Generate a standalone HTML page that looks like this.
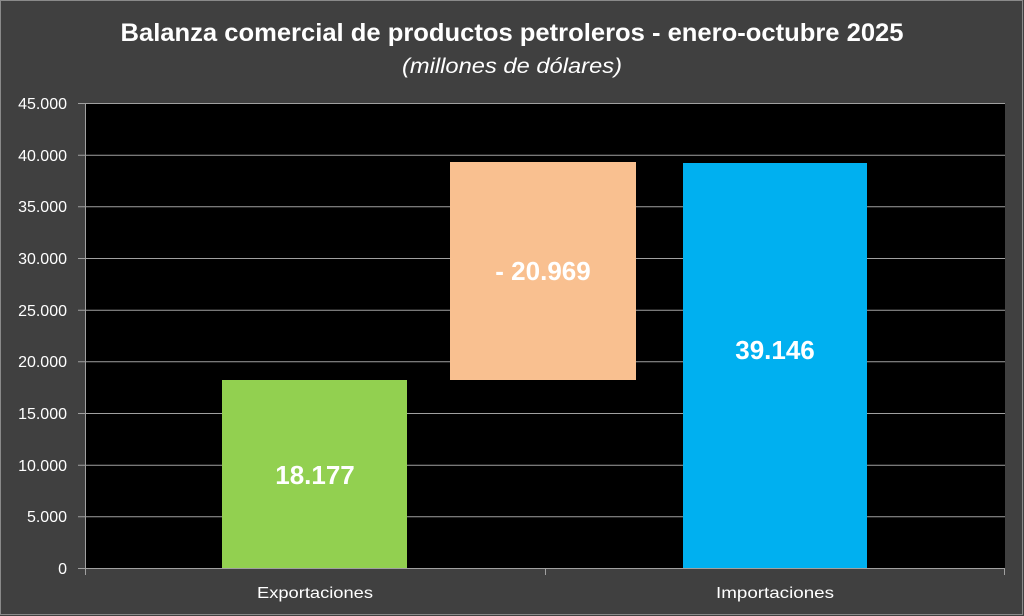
<!DOCTYPE html>
<html><head><style>
html,body{margin:0;padding:0;background:#404040;}
svg{display:block}
text{font-family:"Liberation Sans",sans-serif;}
</style></head><body>
<svg width="1024" height="616" viewBox="0 0 1024 616">
<rect x="0.5" y="0.5" width="1022" height="614" fill="#404040" stroke="#8a8a8a" stroke-width="1"/>
<text x="512" y="41" text-anchor="middle" fill="#fff" font-size="25" font-weight="bold" textLength="783" lengthAdjust="spacingAndGlyphs">Balanza comercial de productos petroleros - enero-octubre 2025</text>
<text x="512" y="73" text-anchor="middle" fill="#fff" font-size="21" font-style="italic" textLength="220" lengthAdjust="spacingAndGlyphs">(millones de dólares)</text>
<rect x="85" y="103" width="920" height="465" fill="#000"/>
<g stroke="#a0a0a0" stroke-width="1">
<line x1="78" y1="103.5" x2="1005" y2="103.5"/>
<line x1="78" y1="155.2" x2="1005" y2="155.2"/>
<line x1="78" y1="206.8" x2="1005" y2="206.8"/>
<line x1="78" y1="258.5" x2="1005" y2="258.5"/>
<line x1="78" y1="310.2" x2="1005" y2="310.2"/>
<line x1="78" y1="361.8" x2="1005" y2="361.8"/>
<line x1="78" y1="413.5" x2="1005" y2="413.5"/>
<line x1="78" y1="465.2" x2="1005" y2="465.2"/>
<line x1="78" y1="516.8" x2="1005" y2="516.8"/>
<line x1="85.5" y1="103" x2="85.5" y2="568"/>
</g>
<rect x="222" y="380" width="185" height="188" fill="#92d050"/>
<rect x="450" y="162" width="186" height="218" fill="#f9c090"/>
<rect x="683" y="163" width="184" height="405" fill="#00b0f0"/>
<g stroke="#a0a0a0" stroke-width="1">
<line x1="78" y1="568.5" x2="1005" y2="568.5"/>
<line x1="85.5" y1="568" x2="85.5" y2="575"/>
<line x1="545.5" y1="568" x2="545.5" y2="575"/>
<line x1="1004.5" y1="568" x2="1004.5" y2="575"/>
</g>
<g fill="#fff" font-size="16" text-anchor="end">
<text x="67" y="109">45.000</text>
<text x="67" y="161">40.000</text>
<text x="67" y="212">35.000</text>
<text x="67" y="264">30.000</text>
<text x="67" y="316">25.000</text>
<text x="67" y="367">20.000</text>
<text x="67" y="419">15.000</text>
<text x="67" y="471">10.000</text>
<text x="67" y="522">5.000</text>
<text x="67" y="574">0</text>
</g>
<g fill="#fff" font-size="16" text-anchor="middle">
<text x="315" y="598" textLength="116" lengthAdjust="spacingAndGlyphs">Exportaciones</text>
<text x="775" y="598" textLength="118" lengthAdjust="spacingAndGlyphs">Importaciones</text>
</g>
<g fill="#fff" font-size="26" font-weight="bold" text-anchor="middle">
<text x="315" y="484">18.177</text>
<text x="543" y="280">- 20.969</text>
<text x="775" y="359">39.146</text>
</g>
</svg>
</body></html>
